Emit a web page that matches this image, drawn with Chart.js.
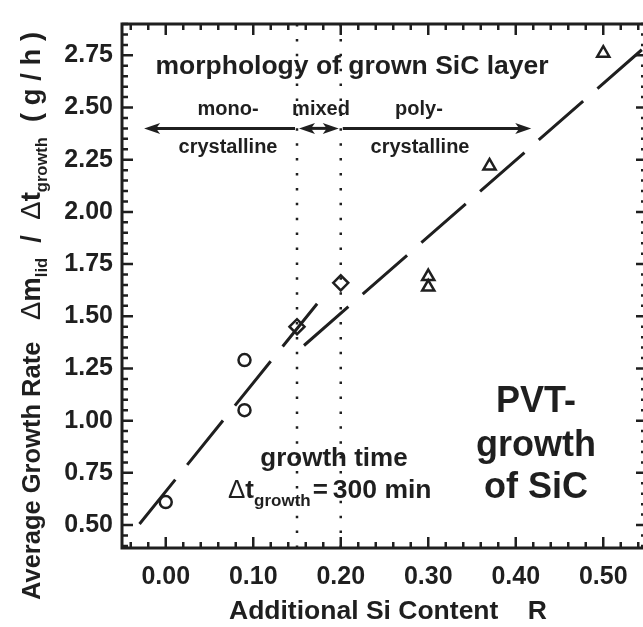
<!DOCTYPE html>
<html>
<head>
<meta charset="utf-8">
<script src="https://cdn.jsdelivr.net/npm/chart.js@4.4.1/dist/chart.umd.min.js"></script>
<style>
  html, body { margin: 0; padding: 0; background: #fff; overflow: hidden; }
  #chart { display: block; }
</style>
</head>
<body>
<canvas id="chart" width="660" height="627"></canvas>
<script>
// measured growth rates (g/h) against additional Si content R
var circleR = [0.00, 0.09, 0.09];
var circleRate = [0.61, 1.29, 1.05];
var diamondR = [0.15, 0.20];
var diamondRate = [1.45, 1.66];
var triangleR = [0.30, 0.30, 0.37, 0.50];
var triangleRate = [1.69, 1.64, 2.22, 2.76];

// the two dashed fit lines (end points)
var monoFitR = [-0.03, 0.173];
var monoFitRate = [0.505, 1.56];
var polyFitR = [0.158, 0.56];
var polyFitRate = [1.36, 2.835];

// dotted boundaries between mono / mixed / poly
var boundaryR = [0.15, 0.20];

// morphology arrows
var arrowFromR = [-0.027, 0.15, 0.20];
var arrowToR = [0.15, 0.20, 0.42];
var arrowRate = 2.40;

var xTicks = [0.00, 0.10, 0.20, 0.30, 0.40, 0.50];
var yTicks = [0.50, 0.75, 1.00, 1.25, 1.50, 1.75, 2.00, 2.25, 2.50, 2.75];
var xMin = -0.05, xMax = 0.55, yMin = 0.39, yMax = 2.90;

var ink = '#1f1f1f';
var fam = '"Liberation Sans", Arial, sans-serif';

function pts(xs, ys) {
  return xs.map(function (x, i) { return { x: x, y: ys[i] }; });
}

function rich(ctx, parts, x, y, align) {
  var w = 0;
  parts.forEach(function (p) {
    ctx.font = p.font;
    p.w = ctx.measureText(p.text).width;
    w += p.w + (p.kern || 0);
  });
  var cx = align === 'center' ? x - w / 2 : x;
  parts.forEach(function (p) {
    ctx.font = p.font;
    ctx.fillText(p.text, cx, y + (p.dy || 0));
    cx += p.w + (p.kern || 0);
  });
  return w;
}

function arrowHead(ctx, x, y, dir) {
  ctx.beginPath();
  ctx.moveTo(x, y);
  ctx.lineTo(x - dir * 16, y - 5.5);
  ctx.lineTo(x - dir * 12, y);
  ctx.lineTo(x - dir * 16, y + 5.5);
  ctx.closePath();
  ctx.fill();
}

var decor = {
  id: 'decor',
  afterDraw: function (chart) {
    var ctx = chart.ctx, a = chart.chartArea;
    var xs = chart.scales.x, ys = chart.scales.y;
    ctx.save();
    ctx.strokeStyle = ink;
    ctx.fillStyle = ink;

    // frame
    ctx.lineWidth = 3;
    ctx.strokeRect(a.left, a.top, a.right - a.left, a.bottom - a.top);

    // inward ticks on all four sides
    ctx.lineWidth = 2.5;
    ctx.beginPath();
    for (var i = -2; i <= 27; i++) {
      var px = xs.getPixelForValue(i * 0.02);
      var len = (i % 5 === 0) ? 11 : 6;
      ctx.moveTo(px, a.bottom); ctx.lineTo(px, a.bottom - len);
      ctx.moveTo(px, a.top); ctx.lineTo(px, a.top + len);
    }
    for (var j = 8; j <= 58; j++) {
      var py = ys.getPixelForValue(j * 0.05);
      var l2 = (j % 5 === 0) ? 11 : 6;
      ctx.moveTo(a.left, py); ctx.lineTo(a.left + l2, py);
      ctx.moveTo(a.right, py); ctx.lineTo(a.right - l2, py);
    }
    ctx.stroke();

    // arrows
    var ay = ys.getPixelForValue(arrowRate);
    ctx.lineWidth = 3;
    for (var k = 0; k < arrowFromR.length; k++) {
      var x0 = xs.getPixelForValue(arrowFromR[k]) + 2;
      var x1 = xs.getPixelForValue(arrowToR[k]) - 2;
      ctx.beginPath();
      ctx.moveTo(x0 + (k < 2 ? 8 : 0), ay);
      ctx.lineTo(x1 - (k > 0 ? 8 : 0), ay);
      ctx.stroke();
      if (k < 2) arrowHead(ctx, x0, ay, -1);
      if (k > 0) arrowHead(ctx, x1, ay, 1);
    }

    // annotation text
    ctx.textBaseline = 'alphabetic';
    ctx.textAlign = 'left';
    var B = function (s) { return 'bold ' + s + 'px ' + fam; };
    var N = function (s) { return s + 'px ' + fam; };

    rich(ctx, [{ text: 'morphology of grown SiC layer', font: B(26.5) }], 352, 74, 'center');
    rich(ctx, [{ text: 'mono-', font: B(20) }], 228, 115, 'center');
    rich(ctx, [{ text: 'mixed', font: B(20) }], 321, 115, 'center');
    rich(ctx, [{ text: 'poly-', font: B(20) }], 419, 115, 'center');
    rich(ctx, [{ text: 'crystalline', font: B(20) }], 228, 153, 'center');
    rich(ctx, [{ text: 'crystalline', font: B(20) }], 420, 153, 'center');

    rich(ctx, [{ text: 'growth time', font: B(26) }], 334, 466, 'center');
    rich(ctx, [
      { text: '\u0394', font: N(26) },
      { text: 't', font: B(26) },
      { text: 'growth', font: B(17), dy: 8, kern: 2 },
      { text: '=', font: B(26), kern: 5 },
      { text: '300 min', font: B(26.5) }
    ], 228, 498, 'left');

    rich(ctx, [{ text: 'PVT-', font: B(36) }], 536, 412, 'center');
    rich(ctx, [{ text: 'growth', font: B(36) }], 536, 456, 'center');
    rich(ctx, [{ text: 'of SiC', font: B(36) }], 536, 498, 'center');

    // axis titles
    rich(ctx, [{ text: 'Additional Si Content    R', font: B(26.5) }], 229, 619, 'left');

    ctx.translate(40, 627);
    ctx.rotate(-Math.PI / 2);
    rich(ctx, [{ text: 'Average Growth Rate', font: B(25.5) }], 27, 0, 'left');
    rich(ctx, [
      { text: '\u0394', font: N(27.5) },
      { text: 'm', font: B(27.5) },
      { text: 'lid', font: B(16.5), dy: 7 },
      { text: '  /  ', font: B(27.5) },
      { text: '\u0394', font: N(27.5) },
      { text: 't', font: B(27.5) },
      { text: 'growth', font: B(16.5), dy: 7 },
      { text: '  ( g / h )', font: B(27.5) }
    ], 307, 0, 'left');
    ctx.restore();
  }
};

var tickFont = { family: fam, size: 25, weight: 'bold' };

var ctx = document.getElementById('chart').getContext('2d');
var chart = new Chart(ctx, {
  type: 'scatter',
  data: {
    datasets: [
      {
        // circles
        data: pts(circleR, circleRate),
        pointStyle: 'circle', pointRadius: 6, borderWidth: 2.5,
        borderColor: ink, backgroundColor: 'rgba(0,0,0,0)'
      },
      {
        // diamonds
        data: pts(diamondR, diamondRate),
        pointStyle: 'rectRot', pointRadius: 7.5, borderWidth: 2.5,
        borderColor: ink, backgroundColor: 'rgba(0,0,0,0)'
      },
      {
        // triangles
        data: pts(triangleR, triangleRate),
        pointStyle: 'triangle', pointRadius: 7, borderWidth: 2.5,
        borderColor: ink, backgroundColor: 'rgba(0,0,0,0)'
      },
      {
        type: 'line',
        data: pts(monoFitR, monoFitRate),
        borderColor: ink, borderWidth: 3, borderDash: [57, 19],
        pointRadius: 0, fill: false
      },
      {
        type: 'line',
        data: pts(polyFitR, polyFitRate),
        borderColor: ink, borderWidth: 3, borderDash: [59, 19],
        pointRadius: 0, fill: false
      },
      {
        type: 'line',
        data: [{ x: boundaryR[0], y: yMin }, { x: boundaryR[0], y: yMax }],
        borderColor: ink, borderWidth: 2.5, borderDash: [2.5, 12.4],
        pointRadius: 0, fill: false
      },
      {
        type: 'line',
        data: [{ x: boundaryR[1], y: yMin }, { x: boundaryR[1], y: yMax }],
        borderColor: ink, borderWidth: 2.5, borderDash: [2.5, 12.4],
        pointRadius: 0, fill: false
      }
    ]
  },
  options: {
    responsive: false,
    animation: false,
    layout: { padding: { top: 21, right: 13, left: 0, bottom: 0 } },
    plugins: { legend: { display: false }, tooltip: { enabled: false } },
    scales: {
      x: {
        type: 'linear', min: xMin, max: xMax,
        grid: { display: false, drawTicks: false },
        border: { display: false },
        afterBuildTicks: function (s) { s.ticks = xTicks.map(function (v) { return { value: v }; }); },
        afterFit: function (s) { s.height = 79; },
        ticks: {
          font: tickFont, color: ink, padding: 14, maxRotation: 0, autoSkip: false,
          callback: function (v) { return Number(v).toFixed(2); }
        }
      },
      y: {
        type: 'linear', min: yMin, max: yMax,
        grid: { display: false, drawTicks: false },
        border: { display: false },
        afterBuildTicks: function (s) { s.ticks = yTicks.map(function (v) { return { value: v }; }); },
        afterFit: function (s) { s.width = 122; },
        ticks: {
          font: tickFont, color: ink, padding: 9, autoSkip: false,
          callback: function (v) { return Number(v).toFixed(2); }
        }
      }
    }
  },
  plugins: [decor]
});
</script>
</body>
</html>
